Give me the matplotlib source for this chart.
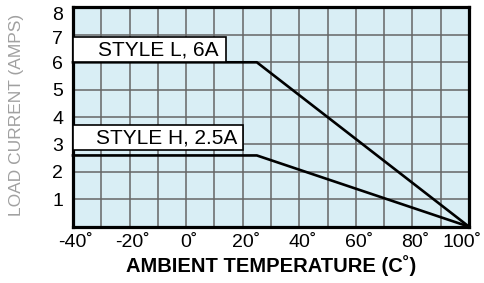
import numpy as np
import matplotlib
matplotlib.use("Agg")
import matplotlib.pyplot as plt
import matplotlib.transforms as mtransforms
from matplotlib.patches import Rectangle

plt.rcParams['font.family'] = ['Liberation Sans', 'DejaVu Sans']

# derating curves (temperature in C, current in A)
style_l_temp = [-40, 25, 100]
style_l_amps = [6.0, 6.0, 0.0]
style_h_temp = [-40, 25, 100]
style_h_amps = [2.6, 2.6, 0.0]

x_ticks = [-40, -20, 0, 20, 40, 60, 80, 100]
x_labels = ["-40˚", "-20˚", "0˚", "20˚", "40˚", "60˚", "80˚", "100˚"]
y_ticks = [1, 2, 3, 4, 5, 6, 7, 8]

# label boxes: text, x0, x1, y0, y1
box_l = ("STYLE L, 6A", -40, 14, 6.0, 6.93)
box_h = ("STYLE H, 2.5A", -40, 20, 2.79, 3.72)

fig = plt.figure(figsize=(4.85, 2.83), dpi=100)
ax = fig.add_axes([0.1505, 0.199, 0.8165, 0.7745])
ax.set_facecolor("#d9eef5")

ax.set_xlim(-40, 100)
ax.set_ylim(0, 8)

ax.set_xticks(x_ticks)
ax.set_xticklabels(x_labels, fontsize=14)
ax.set_xticks(np.arange(-30, 100, 10), minor=True)
ax.set_yticks(y_ticks)
ax.set_yticklabels([str(v) for v in y_ticks], fontsize=14)
ax.tick_params(which="both", length=0)
ax.tick_params(axis="x", pad=5)
ax.tick_params(axis="y", pad=7)

# numbers sit on the tick, the degree ring hangs to the right
for lab in ax.get_xticklabels():
    lab.set_transform(lab.get_transform() +
                      mtransforms.ScaledTranslation(3 / 100, 0, fig.dpi_scale_trans))
last = ax.get_xticklabels()[-1]
last.set_transform(last.get_transform() +
                   mtransforms.ScaledTranslation(-10 / 100, 0, fig.dpi_scale_trans))

# top y labels sit a little lower in the original
ylabs = ax.get_yticklabels()
ylabs[-1].set_transform(ylabs[-1].get_transform() +
                        mtransforms.ScaledTranslation(0, -6 / 100, fig.dpi_scale_trans))
ylabs[-2].set_transform(ylabs[-2].get_transform() +
                        mtransforms.ScaledTranslation(0, -3 / 100, fig.dpi_scale_trans))

ax.grid(True, which="both", color="#666666", linewidth=1.1)
ax.set_axisbelow(True)
for s in ax.spines.values():
    s.set_linewidth(2.3)
    s.set_color("black")

ax.plot(style_l_temp, style_l_amps, color="black", linewidth=1.9, zorder=3, clip_on=False)
ax.plot(style_h_temp, style_h_amps, color="black", linewidth=1.9, zorder=3, clip_on=False)

for text, x0, x1, y0, y1 in [box_l, box_h]:
    ax.add_patch(Rectangle((x0, y0), x1 - x0, y1 - y0, facecolor="white",
                           edgecolor="black", linewidth=1.2, zorder=4))
    ax.text((x0 + x1) / 2 + 3, (y0 + y1) / 2, text, fontsize=15,
            ha="center", va="center", zorder=5)

ax.set_xlabel("AMBIENT TEMPERATURE (C˚)", fontsize=14.5, fontweight="bold", labelpad=3)
fig.text(0.035, 0.594, "LOAD CURRENT (AMPS)", rotation=90, fontsize=12.5,
         color="#a0a0a0", ha="center", va="center")

fig.savefig("out.png", dpi=100)
